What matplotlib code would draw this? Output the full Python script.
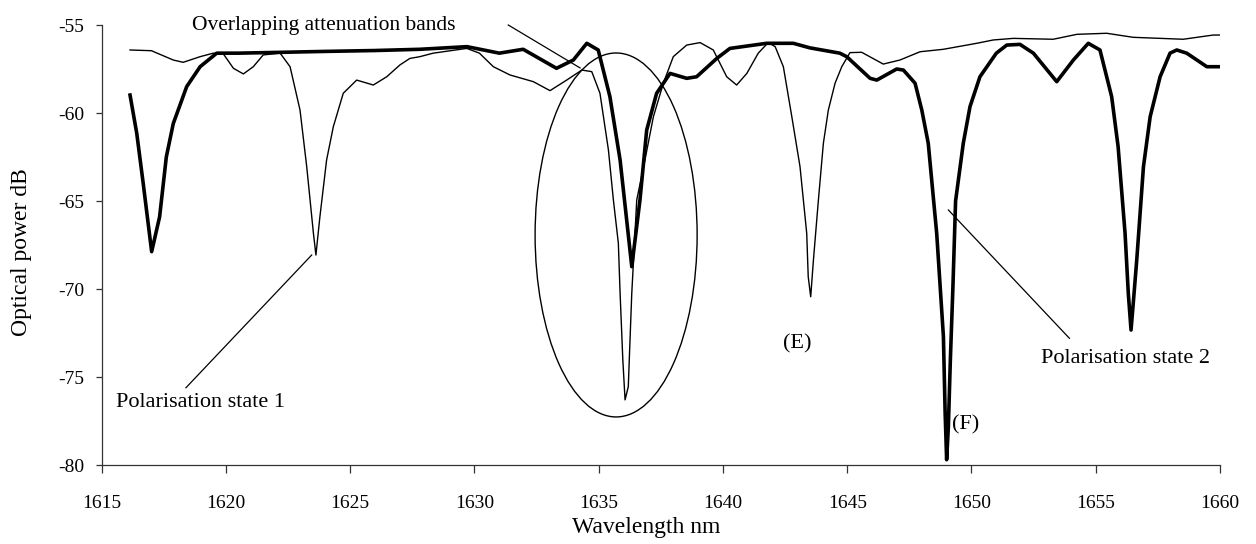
import matplotlib
matplotlib.use("Agg")
import matplotlib.pyplot as plt
from matplotlib.patches import Ellipse

plt.rcParams['font.family'] = ['Liberation Serif', 'DejaVu Serif']
plt.rcParams['axes.unicode_minus'] = False

# Polarisation state 2 (thick trace)
state2_wl = [1616.14, 1616.41, 1616.67, 1617.01, 1617.33, 1617.60, 1617.88, 1618.42, 1618.96, 1619.63,
             1620.50, 1622.30, 1624.00, 1626.00, 1627.80, 1629.70, 1631.00, 1631.96, 1633.30, 1633.98,
             1634.52, 1634.98, 1635.45, 1635.86, 1636.33, 1636.66, 1636.93, 1637.33, 1637.87, 1638.54,
             1638.94, 1639.75, 1640.28, 1641.76, 1642.83, 1643.50, 1644.70, 1644.98, 1645.92, 1646.19,
             1646.99, 1647.26, 1647.73, 1648.00, 1648.26, 1648.60, 1648.67, 1648.87, 1648.94, 1649.00,
             1649.07, 1649.15, 1649.25, 1649.36, 1649.67, 1649.94, 1650.34, 1651.00, 1651.42, 1651.95,
             1652.49, 1653.43, 1654.10, 1654.70, 1655.17, 1655.64, 1655.90, 1656.18, 1656.31, 1656.42,
             1656.51, 1656.65, 1656.92, 1657.19, 1657.59, 1657.99, 1658.26, 1658.66, 1659.47, 1660.07]
state2_db = [-58.98, -61.15, -64.00, -67.88, -65.90, -62.50, -60.60, -58.50, -57.37, -56.60,
             -56.60, -56.55, -56.50, -56.45, -56.38, -56.23, -56.60, -56.38, -57.46, -56.99,
             -56.04, -56.42, -59.07, -62.67, -68.73, -64.94, -60.97, -58.88, -57.75, -58.03,
             -57.94, -56.90, -56.33, -56.04, -56.04, -56.30, -56.60, -56.80, -58.03, -58.13,
             -57.50, -57.56, -58.31, -59.83, -61.72, -66.84, -68.35, -72.70, -77.06, -79.70,
             -77.80, -74.00, -70.00, -65.00, -61.72, -59.64, -57.94, -56.60, -56.14, -56.10,
             -56.60, -58.22, -56.99, -56.04, -56.42, -59.07, -61.91, -66.84, -70.24, -72.33,
             -70.80, -68.35, -63.05, -60.21, -57.94, -56.60, -56.42, -56.60, -57.37, -57.37]

# Polarisation state 1 (thin trace)
state1_wl = [1616.14, 1617.00, 1617.88, 1618.28, 1618.96, 1619.49, 1619.90, 1620.30, 1620.70, 1621.10,
             1621.50, 1622.18, 1622.58, 1622.98, 1623.25, 1623.52, 1623.62, 1623.78, 1624.05, 1624.32,
             1624.72, 1625.26, 1625.93, 1626.47, 1627.00, 1627.40, 1627.80, 1628.34, 1629.69, 1630.20,
             1630.76, 1631.43, 1632.37, 1633.04, 1633.71, 1634.32, 1634.72, 1635.05, 1635.39, 1635.59,
             1635.79, 1635.86, 1635.97, 1636.06, 1636.19, 1636.23, 1636.33, 1636.53, 1636.86, 1637.20,
             1637.60, 1638.00, 1638.54, 1639.08, 1639.61, 1640.15, 1640.55, 1640.96, 1641.42, 1641.82,
             1642.10, 1642.43, 1642.77, 1643.10, 1643.37, 1643.43, 1643.53, 1643.64, 1643.84, 1644.04,
             1644.24, 1644.51, 1644.78, 1645.11, 1645.58, 1646.45, 1647.12, 1647.93, 1648.87, 1650.21,
             1650.88, 1651.68, 1653.29, 1654.24, 1655.44, 1656.51, 1658.52, 1659.73, 1660.10]
state1_db = [-56.42, -56.46, -56.99, -57.12, -56.80, -56.60, -56.65, -57.46, -57.78, -57.37,
             -56.70, -56.60, -57.37, -59.83, -63.05, -66.84, -68.07, -65.90, -62.67, -60.78,
             -58.88, -58.13, -58.41, -57.94, -57.27, -56.90, -56.80, -56.60, -56.33, -56.60,
             -57.37, -57.84, -58.22, -58.73, -58.13, -57.56, -57.65, -58.88, -62.10, -64.94,
             -67.40, -70.24, -74.03, -76.30, -75.55, -74.00, -70.24, -64.94, -62.67, -60.21,
             -58.31, -56.80, -56.14, -56.00, -56.42, -57.94, -58.41, -57.75, -56.60, -56.00,
             -56.23, -57.37, -60.21, -63.05, -66.84, -69.30, -70.44, -68.35, -64.94, -61.72,
             -59.83, -58.31, -57.37, -56.57, -56.55, -57.22, -56.99, -56.52, -56.38, -56.04,
             -55.85, -55.76, -55.81, -55.53, -55.47, -55.70, -55.81, -55.57, -55.57]

x_ticks = [1615, 1620, 1625, 1630, 1635, 1640, 1645, 1650, 1655, 1660]
y_ticks = [-80, -75, -70, -65, -60, -55]

W, H = 1256, 544
fig = plt.figure(figsize=(W / 100, H / 100), dpi=100)
ax = fig.add_axes([101.7 / W, (H - 465) / H, 1118.3 / W, 440 / H])

ax.plot(state1_wl, state1_db, color='black', lw=1.0, solid_joinstyle='round')
ax.plot(state2_wl, state2_db, color='black', lw=2.6, solid_joinstyle='round')

ax.add_patch(Ellipse((1635.7, -66.93), 6.52, 20.68, fill=False, edgecolor='black', lw=1.0))

ax.set_xlim(1615, 1660)
ax.set_ylim(-80, -55)
ax.set_xticks(x_ticks)
ax.set_yticks(y_ticks)
ax.set_xticklabels([str(v) for v in x_ticks])
ax.set_yticklabels([str(v) for v in y_ticks])

for s in ['top', 'right']:
    ax.spines[s].set_visible(False)
for s in ['left', 'bottom']:
    ax.spines[s].set_linewidth(0.9)
    ax.spines[s].set_color('#333333')

ax.tick_params(axis='y', direction='out', length=4.3, width=0.9, pad=8, labelsize=14, color='#333333')
ax.tick_params(axis='x', direction='out', length=5.8, width=0.9, pad=16, labelsize=14, color='#333333')

ax.text(0.487, -0.141, 'Wavelength nm', transform=ax.transAxes, ha='center', va='center', fontsize=17)
ax.text(-0.0713, 0.484, 'Optical power dB', transform=ax.transAxes, ha='center', va='center',
        rotation=90, fontsize=17)

# annotations
ax.text(1618.63, -55.28, 'Overlapping attenuation bands', ha='left', va='baseline', fontsize=15.5)
ax.plot([1631.36, 1634.25], [-55.0, -57.44], color='black', lw=0.9, clip_on=False)

ax.text(1615.58, -76.70, 'Polarisation state 1', ha='left', va='baseline', fontsize=16)
ax.plot([1623.45, 1618.39], [-68.07, -75.61], color='black', lw=0.9)

ax.text(1652.8, -74.2, 'Polarisation state 2', ha='left', va='baseline', fontsize=16)
ax.plot([1649.07, 1653.94], [-65.51, -72.80], color='black', lw=0.9)

ax.text(1642.42, -73.4, '(E)', ha='left', va='baseline', fontsize=16)
ax.text(1649.22, -78.0, '(F)', ha='left', va='baseline', fontsize=16)

fig.savefig('out.png', dpi=100)
